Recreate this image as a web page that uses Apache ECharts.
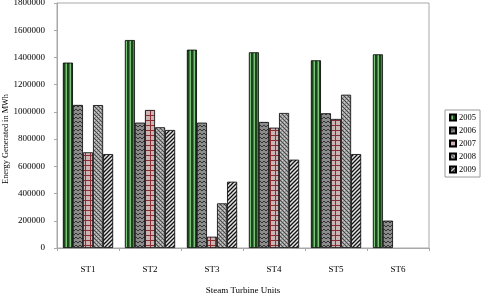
<!DOCTYPE html>
<html>
<head>
<meta charset="utf-8">
<script src="https://cdn.jsdelivr.net/npm/echarts@6/dist/echarts.min.js"></script>
<style>
  html, body { margin: 0; padding: 0; background: #fff; }
  #chart { width: 481px; height: 294px; }
</style>
</head>
<body>
<div id="chart"></div>
<script>
const units = ['ST1', 'ST2', 'ST3', 'ST4', 'ST5', 'ST6'];
const years = ['2005', '2006', '2007', '2008', '2009'];
const gen2005 = [1362000, 1528000, 1457000, 1438000, 1379000, 1423000];
const gen2006 = [1051000, 921000, 921000, 926000, 990000, 201000];
const gen2007 = [703000, 1014000, 83000, 884000, 948000, null];
const gen2008 = [1050000, 887000, 328000, 992000, 1126000, null];
const gen2009 = [690000, 867000, 487000, 649000, 690000, null];
const yTicks = [0, 200000, 400000, 600000, 800000, 1000000, 1200000, 1400000, 1600000, 1800000];

// small canvas tiles used as bar fill patterns
function tile(w, h, draw) {
  const c = document.createElement('canvas');
  c.width = w; c.height = h;
  draw(c.getContext('2d'));
  return { image: c, repeat: 'repeat' };
}

const fills = [
  tile(4, 4, g => {
    g.fillStyle = '#1c451c'; g.fillRect(0, 0, 4, 4);
    g.fillStyle = '#3d8a3d'; g.fillRect(1, 0, 1, 4);
    g.fillStyle = '#7cc47c'; g.fillRect(2, 0, 1, 4);
  }),
  tile(4, 4, g => {
    g.fillStyle = '#8c8c8c'; g.fillRect(0, 0, 4, 4);
    g.strokeStyle = '#333'; g.lineWidth = 1;
    g.beginPath(); g.moveTo(0, 1); g.lineTo(2, 3); g.lineTo(4, 1); g.stroke();
  }),
  tile(5, 5, g => {
    g.fillStyle = '#c9b4b6'; g.fillRect(0, 0, 5, 5);
    g.fillStyle = '#8a2e34'; g.fillRect(0, 0, 5, 1); g.fillRect(0, 0, 1, 5);
  }),
  tile(4, 4, g => {
    g.fillStyle = '#9a9a9a'; g.fillRect(0, 0, 4, 4);
    g.fillStyle = '#4a4a4a';
    g.fillRect(0, 0, 1, 1); g.fillRect(2, 2, 1, 1);
    g.fillRect(1, 1, 1, 1); g.fillRect(3, 3, 1, 1);
    g.fillStyle = '#cfcfcf'; g.fillRect(2, 0, 1, 1); g.fillRect(0, 2, 1, 1);
  }),
  tile(4, 4, g => {
    g.fillStyle = '#e6e6e6'; g.fillRect(0, 0, 4, 4);
    g.strokeStyle = '#111'; g.lineWidth = 1.3;
    g.beginPath();
    g.moveTo(-1, 5); g.lineTo(5, -1);
    g.moveTo(-1, 1); g.lineTo(1, -1);
    g.moveTo(3, 5); g.lineTo(5, 3);
    g.stroke();
  })
];

const seriesData = [gen2005, gen2006, gen2007, gen2008, gen2009];
const font = 'Liberation Serif';

const chart = echarts.init(document.getElementById('chart'));
chart.setOption({
  animation: false,
  backgroundColor: '#fff',
  grid: { left: 57, right: 52, top: 3, bottom: 46, show: true, borderColor: '#a8a8a8', borderWidth: 1,
    outerBoundsMode: 'none', containLabel: false },
  legend: {
    orient: 'vertical',
    right: 1, top: 110,
    data: years,
    itemWidth: 6, itemHeight: 6, itemGap: 4,
    icon: 'rect',
    padding: [3, 4, 3, 4],
    borderColor: '#9a9a9a', borderWidth: 1,
    textStyle: { fontFamily: font, fontSize: 8.5, color: '#000', padding: [0, 0, 0, -2] }
  },
  xAxis: {
    type: 'category',
    data: units,
    name: 'Steam Turbine Units',
    nameLocation: 'middle',
    nameGap: 38,
    nameTextStyle: { fontFamily: font, fontSize: 9, color: '#000' },
    axisLine: { lineStyle: { color: '#a8a8a8' } },
    axisTick: { show: true, length: 3, lineStyle: { color: '#a8a8a8' } },
    axisLabel: { fontFamily: font, fontSize: 9, color: '#000', margin: 17 }
  },
  yAxis: {
    type: 'value',
    min: 0, max: 1800000, interval: 200000,
    axisLine: { show: true, lineStyle: { color: '#a8a8a8' } },
    axisTick: { show: true, length: 3, lineStyle: { color: '#a8a8a8' } },
    splitLine: { show: false },
    axisLabel: { fontFamily: font, fontSize: 9, color: '#000', margin: 12,
      formatter: v => yTicks.includes(v) ? String(v) : '' }
  },
  graphic: [{
    type: 'text',
    left: 2, top: 94,
    rotation: Math.PI / 2,
    style: { text: 'Energy Generated in MWh', font: '8.3px "Liberation Serif"', fill: '#000' }
  }],
  series: years.map((y, i) => ({
    name: y,
    type: 'bar',
    data: seriesData[i],
    barCategoryGap: '19%',
    barGap: '0%',
    itemStyle: { color: fills[i], borderColor: '#000', borderWidth: 0.8 }
  }))
});
</script>
</body>
</html>
